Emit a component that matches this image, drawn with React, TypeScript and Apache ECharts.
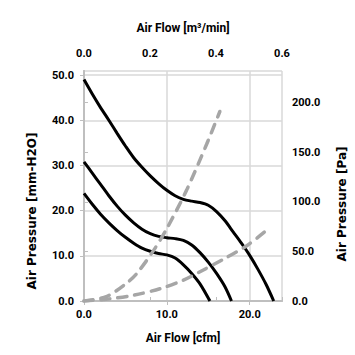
import React, { useEffect, useRef } from "react";
import * as echarts from "echarts";

// Fan P-Q curves (x: cfm, y: mm-H2O)
const curveHigh: [number, number][] = [
  [0, 49], [1, 45.8], [2, 42.8], [3, 40], [4, 37.1], [5, 34.3], [6, 31.7], [7, 29.6],
  [8, 27.7], [9, 26], [10, 24.5], [11, 23.3], [12, 22.5], [13, 22.1], [14, 21.8],
  [15, 21.2], [16, 19.8], [17, 17.8], [18, 15.3], [19, 12.8], [20, 10.1], [21, 7],
  [22, 3.6], [22.9, 0],
];
const curveMid: [number, number][] = [
  [0, 30.8], [1, 28.3], [2, 25.8], [3, 23.3], [4, 21], [5, 19], [6, 17.3], [7, 15.9],
  [8, 14.9], [9, 14.3], [10, 14.0], [11, 13.8], [12, 13.4], [13, 12.4], [14, 10.7],
  [15, 8.6], [16, 6.1], [17, 3.2], [17.8, 0],
];
const curveLow: [number, number][] = [
  [0, 23.8], [1, 21.4], [2, 19.2], [3, 17.3], [4, 15.6], [5, 14.1], [6, 12.8], [7, 11.7],
  [8, 11], [9, 10.5], [10, 10.2], [11, 9.5], [12, 8], [13, 6.1], [14, 3.8], [15.2, 0],
];
// System impedance curves (x: cfm, y: Pa)
const impedanceSteep: [number, number][] = [
  [0, 0], [2.7, 4.5], [5, 17], [6.4, 28], [8.4, 51], [10, 73], [12.4, 112], [14.8, 158], [16.4, 191],
];
const impedanceShallow: [number, number][] = [
  [0, 0], [3.1, 2.2], [6, 5.8], [9.2, 12.5], [12, 21], [14, 29.5], [16.8, 42], [19.7, 56], [22.3, 73],
];

const xBottomTitle = "Air Flow [cfm]";
const xTopTitle = "Air Flow [m³/min]";
const yLeftTitle = "Air Pressure [mm-H2O]";
const yRightTitle = "Air Pressure [Pa]";

const FONT = "Roboto, 'Noto Sans', sans-serif";
const YFONT = "'DejaVu Sans', sans-serif";

export default function App() {
  const ref = useRef<HTMLDivElement>(null);
  useEffect(() => {
    if (!ref.current) return;
    const chart = echarts.init(ref.current, null, { renderer: "svg" });
    const axisLine = { show: true, lineStyle: { color: "#bfbfbf", width: 2 } };
    const axisTick = { show: true, length: 4, inside: false, lineStyle: { color: "#bfbfbf", width: 1 } };
    const label = {
      color: "#000",
      fontWeight: 700,
      fontSize: 11,
      fontFamily: FONT,
      showMaxLabel: false,
      formatter: (v: number) => v.toFixed(1),
    };
    const nameStyle = { color: "#000", fontWeight: 700, fontSize: 12, fontFamily: FONT };
    const split = { show: true, lineStyle: { color: "#d9d9d9", width: 1.5 } };
    const black = { color: "#000", width: 3 };
    const gray = { color: "#a6a6a6", width: 3.5, type: [9, 8] as number[], cap: "round" as const };
    const common = { type: "line", xAxisIndex: 0, smooth: 0.3, showSymbol: false };
    const yTitle = (text: string, x: number, y: number) => ({
      type: "text",
      x,
      y,
      rotation: Math.PI / 2,
      style: {
        text,
        fill: "#000",
        fontFamily: YFONT,
        fontWeight: "bold",
        fontSize: 12,
        align: "center",
        verticalAlign: "middle",
      },
    });
    chart.setOption({
      animation: false,
      grid: { left: 84, right: 73, top: 71, bottom: 54 },
      xAxis: [
        {
          type: "value", position: "bottom", min: 0, max: 23.9, interval: 10,
          axisLine, axisTick, axisLabel: { ...label, margin: 8 }, splitLine: split,
          name: xBottomTitle, nameLocation: "middle", nameGap: 31, nameTextStyle: nameStyle,
        },
        {
          type: "value", position: "top", min: 0, max: 0.6, interval: 0.2,
          axisLine, axisTick, axisLabel: { ...label, showMaxLabel: true, margin: 12 }, splitLine: { show: false },
          name: xTopTitle, nameLocation: "middle", nameGap: 37, nameTextStyle: nameStyle,
        },
      ],
      yAxis: [
        {
          type: "value", position: "left", min: 0, max: 50.9, interval: 10,
          axisLine, axisTick, axisLabel: { ...label, margin: 10 }, splitLine: split,
        },
        {
          type: "value", position: "right", min: 0, max: 231.8, interval: 50,
          axisLine, axisTick, axisLabel: { ...label, margin: 10 }, splitLine: { show: false },
        },
      ],
      graphic: [yTitle(yLeftTitle, 32, 211), yTitle(yRightTitle, 342, 204)],
      series: [
        { ...common, data: curveHigh, yAxisIndex: 0, lineStyle: black },
        { ...common, data: curveMid, yAxisIndex: 0, lineStyle: black },
        { ...common, data: curveLow, yAxisIndex: 0, lineStyle: black },
        { ...common, data: impedanceSteep, yAxisIndex: 1, lineStyle: gray },
        { ...common, data: impedanceShallow, yAxisIndex: 1, lineStyle: gray },
      ],
    });
    return () => chart.dispose();
  }, []);
  return (
    <div
      ref={ref}
      style={{ position: "fixed", left: 0, top: 0, width: 355, height: 355, background: "#fff" }}
    />
  );
}
